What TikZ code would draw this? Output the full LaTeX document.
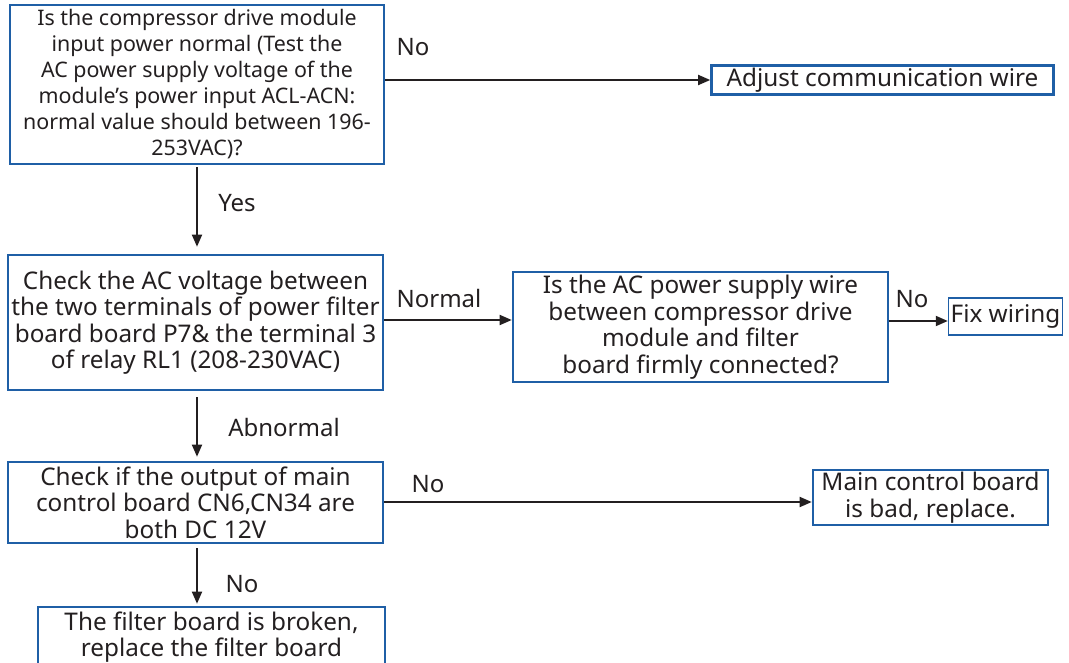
\documentclass[tikz,border=0pt]{standalone}
\usepackage{fontspec}
\setmainfont{Noto Sans}
\usetikzlibrary{arrows.meta}
\definecolor{boxblue}{HTML}{1F5FA6}
\definecolor{ink}{HTML}{231F20}
\tikzset{
  box/.style={draw=boxblue, line width=2.6pt, inner sep=0pt, align=center, text=ink, font=\fontsize{24.3}{26.5}\selectfont},
  smallbox/.style={box, font=\fontsize{21.4}{26}\selectfont},
  thinbox/.style={box, line width=1.4pt},
  arr/.style={draw=ink, line width=1.8pt, -{Triangle[length=12pt,width=10pt]}},
  lbl/.style={text=ink, font=\fontsize{24}{26}\selectfont, inner sep=0pt}
}
\begin{document}
\begin{tikzpicture}[x=1pt,y=-1pt]
\useasboundingbox (0,0) rectangle (1069,663);
\node[smallbox, minimum width=374pt, minimum height=159pt] (b1) at (197,84.5)
  {Is the compressor drive module\\input power normal (Test the\\AC power supply voltage of the\\module's power input ACL-ACN:\\normal value should between 196-\\253VAC)?};
\node[box, minimum width=342pt, minimum height=29pt] (b2) at (882.5,80) {Adjust communication wire};
\node[box, minimum width=375pt, minimum height=135pt] (b3) at (195.5,322.5)
  {Check the AC voltage between\\the two terminals of power filter\\board board P7\& the terminal 3\\of relay RL1 (208-230VAC)};
\node[box, minimum width=375pt, minimum height=110pt] (b4) at (700.5,327)
  {Is the AC power supply wire\\between compressor drive\\module and filter\\board firmly connected?};
\node[thinbox, minimum width=114pt, minimum height=37pt] (b5) at (1005.5,316.5) {Fix wiring};
\node[box, minimum width=375pt, minimum height=81pt] (b6) at (195.5,502.5)
  {Check if the output of main\\control board CN6,CN34 are\\both DC 12V};
\node[box, minimum width=235pt, minimum height=55pt] (b7) at (930.5,497.5) {Main control board\\is bad, replace.};
\node[box, minimum width=347pt, minimum height=60pt] (b8) at (211.5,637) {The filter board is broken,\\replace the filter board};

\draw[arr] (b1.east |- 0,80) -- (b2.west |- 0,80);
\draw[arr, shorten >=7pt, shorten <=2pt] (b1.south -| 197,0) -- (b3.north -| 197,0);
\draw[arr] (b3.east |- 0,320) -- (b4.west |- 0,320);
\draw[arr] (b4.east |- 0,321) -- (b5.west |- 0,321);
\draw[arr, shorten >=4pt, shorten <=6pt] (b3.south -| 197,0) -- (b6.north -| 197,0);
\draw[arr] (b6.east |- 0,502) -- (b7.west |- 0,502);
\draw[arr, shorten >=2pt, shorten <=4pt] (b6.south -| 197,0) -- (b8.north -| 197,0);

\node[lbl] (l1) at (413,47) {No};
\node[lbl] (l2) at (237,203) {Yes};
\node[lbl] (l3) at (439,299) {Normal};
\node[lbl] (l4) at (912,299) {No};
\node[lbl] (l5) at (284,427) {Abnormal};
\node[lbl] (l6) at (428,484) {No};
\node[lbl] (l7) at (242,584) {No};
\end{tikzpicture}
\end{document}
